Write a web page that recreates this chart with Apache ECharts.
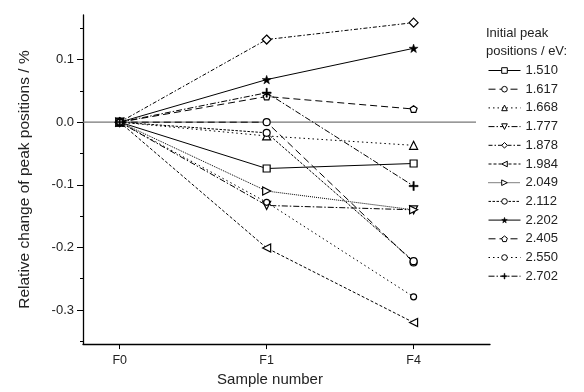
<!DOCTYPE html>
<html>
<head>
<meta charset="utf-8">
<script src="https://cdn.jsdelivr.net/npm/echarts@6/dist/echarts.min.js"></script>
<style>html,body{margin:0;padding:0;background:#fff}#c{width:584px;height:392px}</style>
</head>
<body>
<div id="c"></div>
<script>
// Sample positions (F0, F1, F4 plotted equally spaced)
var xPositions = [0, 1, 2];
var xTickLabels = ['F0', 'F1', 'F4'];
var yTickValues = [-0.3, -0.2, -0.1, 0.0, 0.1];
var yMinorTickValues = [-0.35, -0.25, -0.15, -0.05, 0.05, 0.15];

// Legend names (initial peak positions / eV)
var seriesNames = ['1.510', '1.617', '1.668', '1.777', '1.878', '1.984', '2.049', '2.112', '2.202', '2.405', '2.550', '2.702'];

// Relative change of peak positions / %
var s1510 = [0, -0.074, -0.066];
var s1617 = [0, 0.000, -0.224];
var s1668 = [0, -0.022, -0.037];
var s1777 = [0, -0.133, -0.140];
var s1878 = [0, 0.132, 0.159];
var s1984 = [0, -0.201, -0.320];
var s2049 = [0, -0.110, -0.140];
var s2112 = [0, -0.017, -0.222];
var s2202 = [0, 0.068, 0.118];
var s2405 = [0, 0.041, 0.021];
var s2550 = [0, -0.128, -0.279];
var s2702 = [0, 0.047, -0.102];

var seriesValues = [s1510, s1617, s1668, s1777, s1878, s1984, s2049, s2112, s2202, s2405, s2550, s2702];

var STAR = 'path://M0,-10 L2.35,-3.24 L9.51,-3.09 L3.8,1.24 L5.88,8.09 L0,4 L-5.88,8.09 L-3.8,1.24 L-9.51,-3.09 L-2.35,-3.24Z';
var PENT = 'path://M0,-10 L9.51,-3.09 L5.88,8.09 L-5.88,8.09 L-9.51,-3.09Z';
var PLUS = 'path://M-0.9,-6H0.9V-0.9H6V0.9H0.9V6H-0.9V0.9H-6V-0.9H-0.9Z';

var styles = [
  {type: 'solid', symbol: 'rect', size: 7, rot: 0},
  {type: [7, 4], symbol: 'circle', size: 7, rot: 0},
  {type: [1.5, 3], symbol: 'triangle', size: 8, rot: 0},
  {type: [6, 2, 1.5, 2], symbol: 'triangle', size: 8, rot: 180},
  {type: [4, 2, 1.5, 2], symbol: 'diamond', size: 9, rot: 0},
  {type: [3, 2], symbol: 'triangle', size: 8, rot: 90},
  {type: [1, 1], symbol: 'triangle', size: 8, rot: -90},
  {type: [2.5, 1.5], symbol: 'circle', size: 7, rot: 0},
  {type: 'solid', symbol: STAR, size: 9, rot: 0, filled: true},
  {type: [7, 4], symbol: PENT, size: 7, rot: 0},
  {type: [1.5, 3], symbol: 'circle', size: 6, rot: 0},
  {type: [6, 2, 1.5, 2], symbol: PLUS, size: 9, rot: 0, filled: true}
];

var FONT = "'Liberation Sans', Arial, Helvetica, sans-serif";

var series = [{
  name: 'zero',
  type: 'line',
  data: [[-0.25, 0], [2.425, 0]],
  symbol: 'none',
  lineStyle: {color: '#777', width: 1.3},
  silent: true,
  z: 1
}];

seriesNames.forEach(function (n, i) {
  var st = styles[i];
  series.push({
    name: n,
    type: 'line',
    data: xPositions.map(function (x, j) { return [x, seriesValues[i][j]]; }),
    symbol: st.symbol,
    symbolSize: st.size,
    symbolRotate: st.rot,
    symbolKeepAspect: true,
    showAllSymbol: true,
    lineStyle: {color: '#000', width: 1, type: st.type},
    itemStyle: {color: st.filled ? '#000' : '#fff', borderColor: '#000', borderWidth: st.filled ? 0.5 : 1.2},
    z: 2
  });
});

var legendData = seriesNames.map(function (n, i) {
  var st = styles[i];
  return {
    name: n,
    itemStyle: {color: st.filled ? '#000' : '#fff', borderColor: '#000', borderWidth: st.filled ? 0.5 : 1}
  };
});

var chart = echarts.init(document.getElementById('c'), null, {renderer: 'canvas'});
chart.setOption({
  animation: false,
  backgroundColor: '#fff',
  textStyle: {fontFamily: FONT, color: '#222'},
  title: {
    text: 'Initial peak\npositions / eV:',
    left: 481,
    top: 19,
    textStyle: {fontFamily: FONT, fontSize: 13, fontWeight: 'normal', color: '#222', lineHeight: 18.5}
  },
  legend: {
    data: legendData,
    orient: 'vertical',
    left: 488,
    top: 64,
    padding: 0,
    itemWidth: 32,
    itemHeight: 7,
    itemGap: 5.7,
    lineStyle: {width: 1},
    textStyle: {fontFamily: FONT, fontSize: 13, color: '#222'}
  },
  grid: {left: 83, right: 94, top: 15, bottom: 46.3, containLabel: false},
  xAxis: {
    type: 'value',
    min: -0.25,
    max: 2.52,
    name: 'Sample number',
    nameLocation: 'middle',
    nameGap: 22,
    nameTextStyle: {fontFamily: FONT, fontSize: 15, color: '#222', padding: [0, 33, 0, 0]},
    axisLine: {onZero: false, lineStyle: {color: '#000', width: 1.3}},
    axisTick: {show: true, inside: false, length: 5, customValues: xPositions, lineStyle: {color: '#000'}},
    axisLabel: {
      customValues: xPositions,
      margin: 10,
      fontFamily: FONT, fontSize: 12.5, color: '#222',
      formatter: function (v) { var k = xPositions.indexOf(Math.round(v)); return k >= 0 ? xTickLabels[k] : ''; }
    },
    splitLine: {show: false}
  },
  yAxis: [{
    type: 'value',
    min: -0.3545,
    max: 0.1712,
    name: 'Relative change of peak positions / %',
    nameLocation: 'middle',
    nameGap: 50,
    nameTextStyle: {fontFamily: FONT, fontSize: 15.5, color: '#222'},
    axisLine: {show: true, onZero: false, lineStyle: {color: '#000', width: 1.3}},
    axisTick: {show: true, inside: false, length: 6, customValues: yTickValues, lineStyle: {color: '#000'}},
    axisLabel: {
      customValues: yTickValues,
      margin: 9,
      fontFamily: FONT, fontSize: 13, color: '#222',
      formatter: function (v) { return v.toFixed(1); }
    },
    splitLine: {show: false}
  }, {
    type: 'value',
    min: -0.3545,
    max: 0.1712,
    position: 'left',
    axisLine: {show: false, onZero: false},
    axisTick: {show: true, inside: false, length: 3, customValues: yMinorTickValues, lineStyle: {color: '#000'}},
    axisLabel: {show: false},
    splitLine: {show: false}
  }],
  series: series
});
</script>
</body>
</html>
